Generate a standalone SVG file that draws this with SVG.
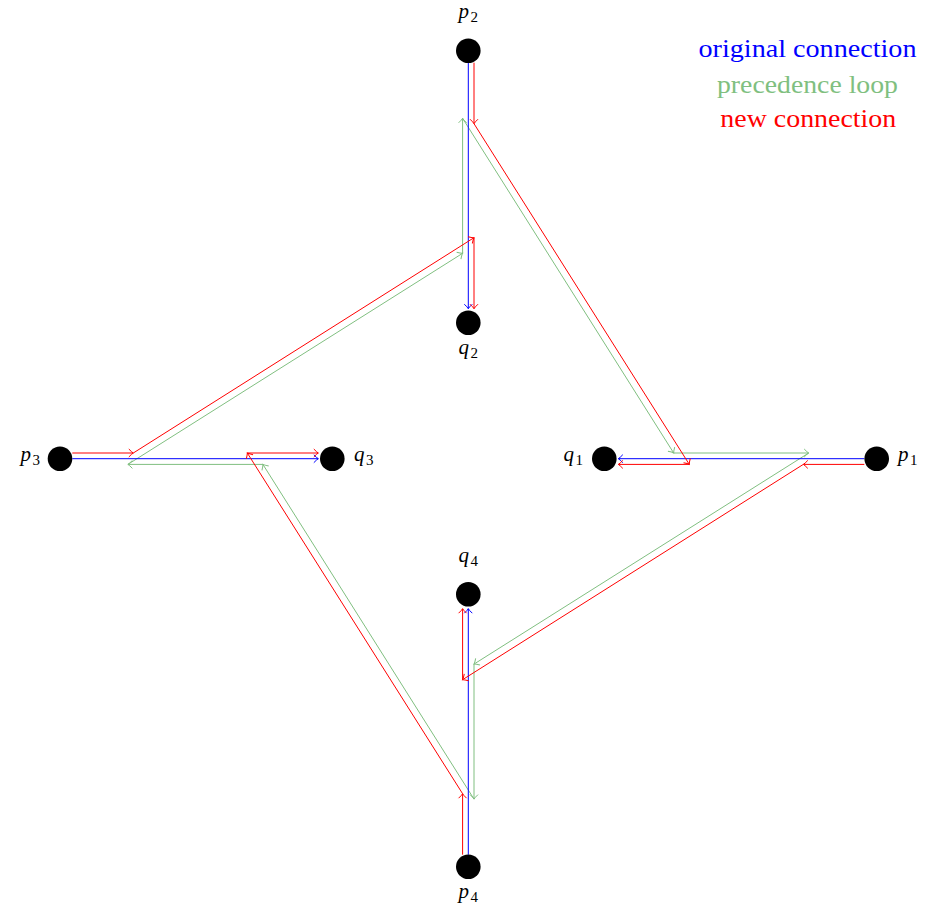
<svg xmlns="http://www.w3.org/2000/svg" width="927" height="913" viewBox="0 0 927 913">
<defs>
<style>
.blue{stroke:#0000ff;stroke-width:1;fill:none;marker-end:url(#ab)}
.red{stroke:#ff0000;stroke-width:1;fill:none;marker-end:url(#ar)}
.green{stroke:#80bf80;stroke-width:1;fill:none;marker-end:url(#ag)}
.node{fill:#000}
.lbl{font-size:21px;font-style:italic;fill:#000}
.sub{font-style:normal;font-size:15px}
.leg{font-size:25px;text-anchor:middle}
</style>
<marker id="ab" markerUnits="userSpaceOnUse" markerWidth="12" markerHeight="12" viewBox="-6 -6 12 12" refX="0" refY="0" orient="auto" overflow="visible"><path d="M-4.5,-4 Q-1.5,-0.8 0,0 Q-1.5,0.8 -4.5,4" fill="none" stroke="#0000ff" stroke-width="1"/></marker>
<marker id="ar" markerUnits="userSpaceOnUse" markerWidth="12" markerHeight="12" viewBox="-6 -6 12 12" refX="0" refY="0" orient="auto" overflow="visible"><path d="M-4.5,-4 Q-1.5,-0.8 0,0 Q-1.5,0.8 -4.5,4" fill="none" stroke="#ff0000" stroke-width="1"/></marker>
<marker id="ag" markerUnits="userSpaceOnUse" markerWidth="12" markerHeight="12" viewBox="-6 -6 12 12" refX="0" refY="0" orient="auto" overflow="visible"><path d="M-4.5,-4 Q-1.5,-0.8 0,0 Q-1.5,0.8 -4.5,4" fill="none" stroke="#80bf80" stroke-width="1"/></marker>
</defs>
<rect width="927" height="913" fill="#fff"/>
<g id="connectors">
<g id="precedence-loop">
<line class="green" x1="462.6" y1="253.3" x2="462.6" y2="118.3"/>
<line class="green" x1="462.6" y1="118.3" x2="673.7" y2="453.0"/>
<line class="green" x1="673.7" y1="453.0" x2="808.7" y2="453.0"/>
<line class="green" x1="808.7" y1="453.0" x2="474.0" y2="664.1"/>
<line class="green" x1="474.0" y1="664.1" x2="474.0" y2="799.1"/>
<line class="green" x1="474.0" y1="799.1" x2="262.9" y2="464.4"/>
<line class="green" x1="262.9" y1="464.4" x2="127.9" y2="464.4"/>
<line class="green" x1="127.9" y1="464.4" x2="462.6" y2="253.3"/>
</g>
<g id="original-connections">
<line class="blue" x1="468.3" y1="63" x2="468.3" y2="308.7"/>
<line class="blue" x1="864.3" y1="458.7" x2="618.3" y2="458.7"/>
<line class="blue" x1="72.3" y1="458.7" x2="318.3" y2="458.7"/>
<line class="blue" x1="468.3" y1="854.7" x2="468.3" y2="608.7"/>
</g>
<g id="new-connections">
<line class="red" x1="474.0" y1="62.7" x2="474.0" y2="123.7"/>
<line class="red" x1="474.0" y1="123.7" x2="689.3" y2="464.4"/>
<line class="red" x1="689.3" y1="464.4" x2="618.3" y2="464.4"/>
<line class="red" x1="864.3" y1="464.4" x2="803.3" y2="464.4"/>
<line class="red" x1="803.3" y1="464.4" x2="462.6" y2="679.7"/>
<line class="red" x1="462.6" y1="679.7" x2="462.6" y2="608.7"/>
<line class="red" x1="462.6" y1="854.7" x2="462.6" y2="793.7"/>
<line class="red" x1="462.6" y1="793.7" x2="247.3" y2="453.0"/>
<line class="red" x1="247.3" y1="453.0" x2="318.3" y2="453.0"/>
<line class="red" x1="72.3" y1="453.0" x2="133.3" y2="453.0"/>
<line class="red" x1="133.3" y1="453.0" x2="474.0" y2="237.7"/>
<line class="red" x1="474.0" y1="237.7" x2="474.0" y2="308.7"/>
</g>
</g>
<g font-family="Liberation Serif, DejaVu Serif, serif">
<g id="p2"><circle class="node" cx="468.3" cy="50.7" r="12.3"/><text class="lbl" x="468.3" y="18.3" text-anchor="middle">p<tspan class="sub" dx="1.5" dy="3.5">2</tspan></text></g>
<g id="q2"><circle class="node" cx="468.3" cy="322.7" r="12.3"/><text class="lbl" x="468.3" y="354" text-anchor="middle">q<tspan class="sub" dx="1.5" dy="3.5">2</tspan></text></g>
<g id="p3"><circle class="node" cx="60" cy="458.7" r="12.3"/><text class="lbl" x="40" y="461" text-anchor="end">p<tspan class="sub" dx="1.5" dy="3.5">3</tspan></text></g>
<g id="q3"><circle class="node" cx="332.3" cy="458.7" r="12.3"/><text class="lbl" x="354" y="461">q<tspan class="sub" dx="1.5" dy="3.5">3</tspan></text></g>
<g id="q1"><circle class="node" cx="604.3" cy="458.7" r="12.3"/><text class="lbl" x="583" y="461" text-anchor="end">q<tspan class="sub" dx="1.5" dy="3.5">1</tspan></text></g>
<g id="p1"><circle class="node" cx="876.7" cy="458.7" r="12.3"/><text class="lbl" x="898" y="461">p<tspan class="sub" dx="1.5" dy="3.5">1</tspan></text></g>
<g id="q4"><circle class="node" cx="468.3" cy="594.3" r="12.3"/><text class="lbl" x="468.3" y="562" text-anchor="middle">q<tspan class="sub" dx="1.5" dy="3.5">4</tspan></text></g>
<g id="p4"><circle class="node" cx="468.3" cy="866.7" r="12.3"/><text class="lbl" x="468.3" y="898" text-anchor="middle">p<tspan class="sub" dx="1.5" dy="3.5">4</tspan></text></g>
<g id="legend">
<text class="leg" x="807.5" y="56.5" fill="#0000ff" textLength="218" lengthAdjust="spacingAndGlyphs">original connection</text>
<text class="leg" x="807.5" y="92.5" fill="#80bf80" textLength="181" lengthAdjust="spacingAndGlyphs">precedence loop</text>
<text class="leg" x="808.3" y="127" fill="#ff0000" textLength="176" lengthAdjust="spacingAndGlyphs">new connection</text>
</g>
</g>
</svg>
